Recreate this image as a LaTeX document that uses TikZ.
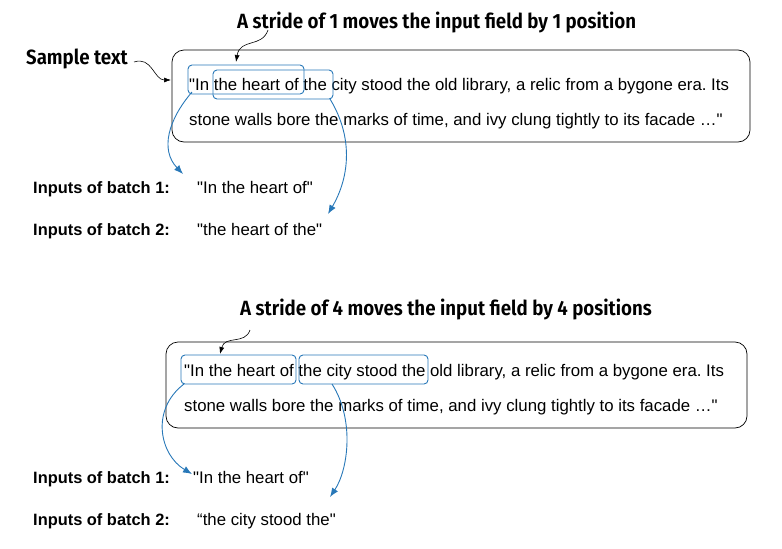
\documentclass[tikz,border=0pt]{standalone}
\usepackage{fontspec}
\setmainfont{Liberation Sans}[Ligatures=TeXReset]
\newfontfamily\titlef{Fira Sans Condensed}[UprightFont=* SemiBold]
\usetikzlibrary{arrows.meta}
\definecolor{bl}{HTML}{2878B8}
\newcommand{\dq}{\symbol{34}}
\begin{document}
\frenchspacing
\begin{tikzpicture}[x=1pt,y=-1pt,
 txt/.style={anchor=base west,inner sep=0,font=\fontsize{16.8}{19}\selectfont},
 lab/.style={anchor=base west,inner sep=0,font=\bfseries\fontsize{16.4}{18}\selectfont},
 ttl/.style={anchor=base west,inner sep=0,font=\titlef\fontsize{20.6}{23}\selectfont},
 win/.style={draw=bl,line width=0.9pt,rounded corners=4pt},
 barr/.style={draw=bl,line width=0.9pt,-{Latex[length=9pt,width=7pt]}},
 karr/.style={draw=black,line width=0.6pt,-{Latex[length=7pt,width=5pt]}}]
\useasboundingbox (0,0) rectangle (782,549);
% top
\node[ttl] (t1) at (237,28) {A stride of 1 moves the input field by 1 position};
\node[ttl] (st) at (26,64) {Sample text};
\draw[rounded corners=12pt,line width=0.7pt] (172,50) rectangle (750,142);
\node[txt] (l1) at (189,90) {\dq In the heart of the city stood the old library, a relic from a bygone era. Its};
\node[txt] (l2) at (189,125) {stone walls bore the marks of time, and ivy clung tightly to its facade …\dq};
\draw[win] (188,65) rectangle (304,94);
\draw[win] (213,70) rectangle (333,99);
\coordinate (w1) at (192,92); \coordinate (w2) at (330,99);
\node[lab] (b1) at (33,193) {Inputs of batch 1:};
\node[txt] (v1) at (197,193) {\dq In the heart of\dq};
\node[lab] (b2) at (33,235) {Inputs of batch 2:};
\node[txt] (v2) at (197,235) {\dq the heart of the\dq};
\coordinate (a1) at (268,30); \coordinate (a1e) at (236,62);
\draw[karr] (a1) .. controls (262,48) and (240,38) .. (a1e);
\coordinate (s1) at (134,62); \coordinate (s1e) at (171,80);
\draw[karr] (s1) .. controls (152,56) and (154,80) .. (s1e);
\coordinate (v1t) at (183,174); \coordinate (v2t) at (328,214);
\draw[barr] (w1) .. controls (168,120) and (160,150) .. (v1t);
\draw[barr] (w2) .. controls (355,140) and (348,180) .. (v2t);
% bottom
\node[ttl] (t2) at (240,315) {A stride of 4 moves the input field by 4 positions};
\draw[rounded corners=12pt,line width=0.7pt] (166,342) rectangle (747,428);
\node[txt] (m1) at (184,376) {\dq In the heart of the city stood the old library, a relic from a bygone era. Its};
\node[txt] (m2) at (184,411) {stone walls bore the marks of time, and ivy clung tightly to its facade …\dq};
\draw[win] (181,355) rectangle (296,384);
\draw[win] (299,355) rectangle (428,384);
\coordinate (w3) at (184,384); \coordinate (w4) at (332,384);
\node[lab] (c1) at (33,483) {Inputs of batch 1:};
\node[txt] (u1) at (193,483) {\dq In the heart of\dq};
\node[lab] (c2) at (33,525) {Inputs of batch 2:};
\node[txt] (u2) at (197,525) {“the city stood the\dq};
\coordinate (a2) at (250,330); \coordinate (a2e) at (220,354);
\draw[karr] (a2) .. controls (245,345) and (225,335) .. (a2e);
\coordinate (u1t) at (192,474); \coordinate (u2t) at (330,497);
\draw[barr] (w3) .. controls (150,410) and (160,455) .. (u1t);
\draw[barr] (w4) .. controls (355,420) and (348,470) .. (u2t);
\end{tikzpicture}
\end{document}
